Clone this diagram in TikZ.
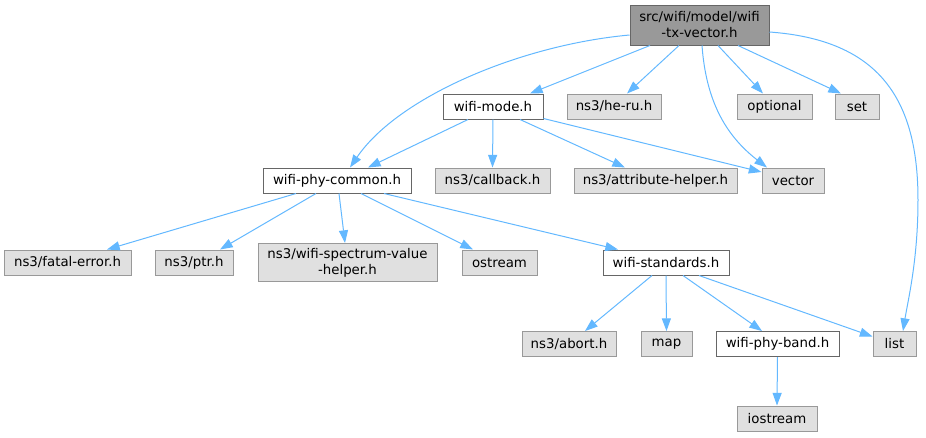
\documentclass[tikz,border=0pt]{standalone}
\usepackage{fontspec}
\setmainfont{DejaVu Sans}
\usetikzlibrary{arrows.meta}
\definecolor{edgeblue}{HTML}{63B8FF}
\definecolor{topfill}{HTML}{999999}
\definecolor{grayfill}{HTML}{E0E0E0}
\definecolor{grayline}{HTML}{999999}
\definecolor{darkline}{HTML}{666666}
\tikzset{
  gbox/.style 2 args={draw=grayline, fill=grayfill, line width=0.75pt, inner sep=0pt,
     minimum width=#1*0.75pt, minimum height=#2*0.75pt, align=center,
     font=\fontsize{10}{12}\selectfont},
  wbox/.style 2 args={gbox={#1}{#2}, draw=darkline, fill=white},
  tbox/.style 2 args={gbox={#1}{#2}, draw=darkline, fill=topfill},
  dep/.style={draw=edgeblue, line width=0.75pt, -{Triangle[length=9.5pt,width=6.8pt]}, fill=none},
}
\begin{document}
\begin{tikzpicture}[x=0.75pt,y=-0.75pt]
\useasboundingbox (0,0) rectangle (926,437);
% nodes
\node[tbox={139}{40}] (top) at (699.5,25) {src/wifi/model/wifi\\-tx-vector.h};
\node[wbox={100}{25}] (mode) at (493,106.5) {wifi-mode.h};
\node[gbox={94}{25}] (heru) at (614,106.5) {ns3/he-ru.h};
\node[gbox={75}{25}] (optional) at (774.5,106.5) {optional};
\node[gbox={44}{25}] (set) at (857,106.5) {set};
\node[wbox={148}{25}] (common) at (337,180.5) {wifi-phy-common.h};
\node[gbox={115}{25}] (callback) at (492.5,180.5) {ns3/callback.h};
\node[gbox={163}{25}] (attr) at (655.5,180.5) {ns3/attribute-helper.h};
\node[gbox={62}{25}] (vector) at (793,180.5) {vector};
\node[gbox={127}{25}] (fatal) at (67.5,262.5) {ns3/fatal-error.h};
\node[gbox={78}{25}] (ptr) at (194,262.5) {ns3/ptr.h};
\node[gbox={179}{38}] (spec) at (347.5,262.5) {ns3/wifi-spectrum-value\\-helper.h};
\node[gbox={75}{25}] (ostream) at (499.5,262.5) {ostream};
\node[wbox={126}{25}] (std) at (666,262.5) {wifi-standards.h};
\node[gbox={94}{25}] (abort) at (569,344) {ns3/abort.h};
\node[gbox={51}{25}] (map) at (666.5,344) {map};
\node[wbox={123}{25}] (band) at (777.5,344) {wifi-phy-band.h};
\node[gbox={43}{25}] (list) at (894.5,344) {list};
\node[gbox={80}{25}] (iostream) at (777,418.5) {iostream};
% edges from top
\draw[dep] ([yshift=-7.5pt]top.west) .. controls (520,45) and (398,97) .. ([xshift=13*0.75pt]common.north);
\draw[dep] ([xshift=-49.5*0.75pt]top.south) -- ([xshift=37*0.75pt]mode.north);
\draw[dep] ([xshift=-20.5*0.75pt]top.south) -- ([xshift=13*0.75pt]heru.north);
\draw[dep] ([xshift=2.5*0.75pt]top.south) .. controls (706,100) and (725,135) .. ([xshift=-26*0.75pt]vector.north);
\draw[dep] ([xshift=18.5*0.75pt]top.south) -- ([xshift=-11.5*0.75pt]optional.north);
\draw[dep] ([xshift=38.5*0.75pt]top.south) -- ([xshift=-16*0.75pt]set.north);
\draw[dep] ([yshift=-5.25pt]top.east) .. controls (880,40) and (918,100) .. (918,200)
   .. controls (918,260) and (908,300) .. ([xshift=8.5*0.75pt]list.north);
% from wifi-mode
\draw[dep] ([xshift=-25*0.75pt]mode.south) -- ([xshift=31*0.75pt]common.north);
\draw[dep] (mode.south) -- (callback.north);
\draw[dep] ([xshift=27*0.75pt]mode.south) -- ([xshift=-30.5*0.75pt]attr.north);
\draw[dep] ([yshift=1*0.75pt]mode.south east) -- ([yshift=8.5*0.75pt]vector.west);
% from wifi-phy-common
\draw[dep] ([xshift=-41*0.75pt]common.south) -- ([xshift=39.5*0.75pt]fatal.north);
\draw[dep] ([xshift=-21*0.75pt]common.south) -- ([xshift=26*0.75pt]ptr.north);
\draw[dep] ([xshift=2*0.75pt]common.south) -- ([xshift=-2.5*0.75pt]spec.north);
\draw[dep] ([xshift=24*0.75pt]common.south) -- ([xshift=-26.5*0.75pt]ostream.north);
\draw[dep] ([xshift=47*0.75pt]common.south) -- ([xshift=-48*0.75pt]std.north);
% from wifi-standards
\draw[dep] ([xshift=-14*0.75pt]std.south) -- ([xshift=16*0.75pt]abort.north);
\draw[dep] (std.south) -- (map.north);
\draw[dep] ([xshift=17*0.75pt]std.south) -- ([xshift=-15.5*0.75pt]band.north);
\draw[dep] ([xshift=33*0.75pt]std.south) -- ([yshift=7.5*0.75pt]list.west);
% from wifi-phy-band
\draw[dep] (band.south) -- (iostream.north);
\end{tikzpicture}
\end{document}
